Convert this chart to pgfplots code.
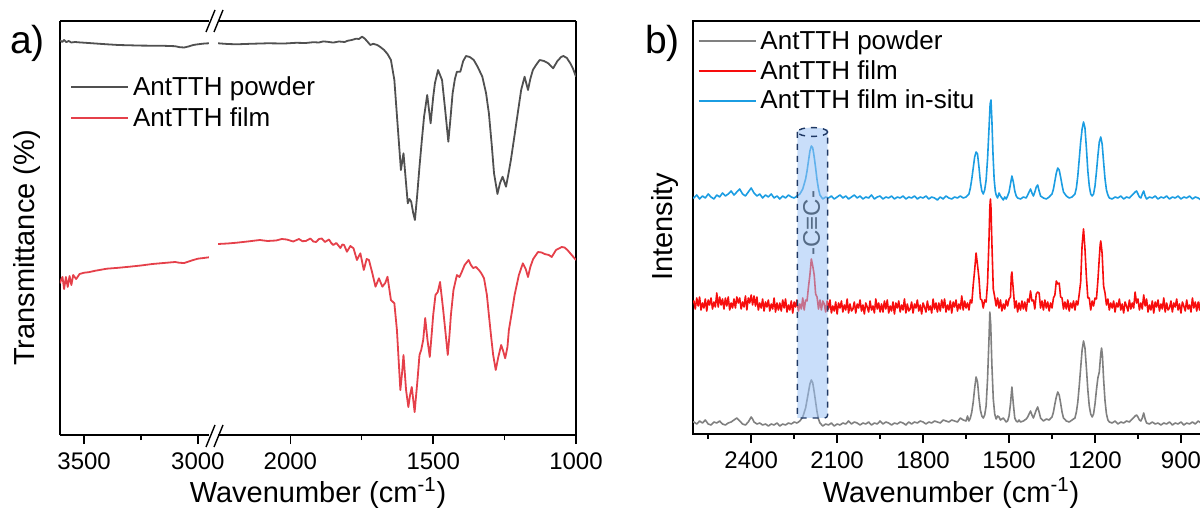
\documentclass[border=0pt]{standalone}
\usepackage{fontspec}
\setmainfont{Liberation Sans}
\usepackage{pgfplots}
\pgfplotsset{compat=1.18}
\definecolor{powA}{HTML}{505050}
\definecolor{filmA}{HTML}{E5404A}
\definecolor{powB}{HTML}{808080}
\definecolor{filmB}{HTML}{F70D0D}
\definecolor{situB}{HTML}{1B9DE2}
\definecolor{cylfill}{HTML}{9CC3F5}
\definecolor{cylline}{HTML}{1F3864}
\begin{document}
\begin{tikzpicture}
\pgfplotsset{
  base/.style={scale only axis, ytick=\empty, ymin=0, x dir=reverse,
    tick align=outside, major tick length=4.5pt, minor tick length=2.5pt,
    tick style={black, line width=0.7pt},
    axis line style={line width=0.7pt, black},
    tick label style={font=\fontsize{12}{14}\selectfont},
    xticklabel style={yshift=-1pt},
    /pgf/number format/assume math mode=true,
    /pgf/number format/set thousands separator={},
    legend cell align=left,
    legend image code/.code={\draw[##1] (0pt,0pt) -- (28.5pt,0pt);},
    every axis plot/.append style={line join=round, mark=none}},
}
% ---------------- panel a, left segment
\begin{axis}[base, at={(30pt,37pt)}, anchor=south west, width=74.5pt, height=207pt,
  xmin=2951, xmax=3606, ymax=414,
  axis x line*=box, axis y line*=left, axis line style={-},
  xtick={3000,3500}, minor xtick={3250}, xtick pos=left,
  legend style={at={(0.066,0.877)}, anchor=north west, draw=none, fill=none,
    inner sep=0pt, row sep=0.6pt, font=\fontsize{13}{15}\selectfont}]
\addplot[powA, line width=0.9pt] coordinates {(3606,394.5)(3596,393)(3588,395)(3578,392.8)(3568,394)(3556,392.5)(3540,393)(3520,392.6)(3500,392.3)(3450,391.5)(3400,390.7)(3350,390)(3300,389.7)(3250,389.4)(3200,389.3)(3150,389.2)(3100,388.8)(3080,387.8)(3060,387.5)(3040,388.6)(3020,390)(3000,390.7)(2970,391.5)(2951,391.7)};
\addlegendentry{AntTTH powder}
\addplot[filmA, line width=0.9pt] coordinates {(3606,151.7)(3600,156)(3595,158)(3588,146)(3580,158)(3572,148)(3564,159)(3556,150)(3548,160)(3535,156)(3520,161)(3500,162.3)(3480,162.8)(3450,164.3)(3400,166.3)(3350,167.2)(3300,168.3)(3250,169.5)(3200,171)(3150,172)(3100,173)(3080,172.2)(3060,172)(3040,173.5)(3020,175)(3000,176.3)(2975,177)(2951,177.7)};
\addlegendentry{AntTTH film}
\end{axis}
% ---------------- panel a, right segment
\begin{axis}[base, at={(109pt,37pt)}, anchor=south west, width=179pt, height=207pt,
  xmin=1000, xmax=2253.5, ymax=414,
  axis x line*=box, axis y line*=right, axis line style={-},
  xtick={1000,1500,2000}, minor xtick={1250,1750}, xtick pos=left]
\addplot[powA, line width=0.9pt] coordinates {(2253,391.7)(2220,391)(2188,390.7)(2140,391.2)(2080,391.7)(2020,391.5)(1980,392.2)(1946,392)(1920,392.8)(1900,392.5)(1885,393.6)(1870,393.2)(1850,392.4)(1830,393.5)(1810,393)(1800,394.2)(1785,395)(1770,396.3)(1760,396)(1749,398.3)(1740,396.5)(1730,393.3)(1720,390)(1710,391.2)(1696,390)(1685,388)(1672,385)(1660,381)(1648,375)(1636,355)(1625,311.7)(1613,265)(1604,281.7)(1596,255)(1589,231.7)(1583,236)(1577,233.3)(1570,222)(1564,215)(1556,240)(1548,268.3)(1540,294)(1532,318.3)(1521,340)(1509,311.7)(1500,338)(1494,351.7)(1483,365)(1469,355)(1458,325)(1447,293.3)(1440,315)(1432,341.7)(1424,356)(1417,363.3)(1405,363.3)(1395,374)(1385,379)(1372,378)(1358,375)(1344,368)(1328,358.3)(1315,342)(1305,321.7)(1295,290)(1287,261.7)(1275,241)(1266,252)(1257,258.3)(1245,248.3)(1236,262)(1228,275)(1215,300)(1204,321.7)(1192,345)(1180,358.3)(1168,345)(1160,356)(1151,365)(1140,370)(1127,375)(1112,374)(1097,371.7)(1080,366.7)(1065,374)(1052,378)(1044,379)(1032,377)(1020,371.7)(1010,366)(1000,358.3)};
\addplot[filmA, line width=0.9pt] coordinates {(2253,191)(2220,191.5)(2188,192.3)(2150,193.5)(2107,195)(2080,194)(2050,194.5)(2030,196)(2013,195.5)(1990,193.5)(1970,196)(1958,193.8)(1946,194)(1930,196.5)(1920,193.5)(1910,193)(1900,196)(1890,196.5)(1879,193)(1865,195.5)(1857,192)(1850,190)(1839,192)(1825,187)(1818,190.5)(1812,190)(1802,183.3)(1790,189)(1779,186.7)(1767,175)(1755,181.7)(1743,165)(1733,176)(1725,175)(1713,161.7)(1702,148.3)(1690,156.7)(1678,148.3)(1668,152)(1660,158.3)(1648,135)(1636,131.7)(1627,105)(1620,70)(1615,45)(1609,62)(1604,80)(1595,45)(1587,28)(1581,40)(1575,48)(1565,23)(1555,55)(1548,80)(1542,85)(1535,95)(1528,117)(1520,95)(1512,78)(1505,102)(1500,120)(1492,140)(1484,143)(1476,153)(1465,125)(1456,100)(1449,80)(1443,100)(1438,120)(1429,145)(1417,160)(1408,158)(1400,163)(1390,170)(1376,175)(1368,170)(1360,167)(1350,168)(1340,165)(1332,162)(1322,156.7)(1312,140)(1305,120)(1297,98)(1290,80)(1281,65)(1272,78)(1262,90)(1255,84)(1248,76.7)(1240,88)(1235,105)(1225,122)(1215,140)(1200,160)(1186,171.7)(1176,166)(1168,158)(1160,168)(1150,176)(1133,183)(1120,182.5)(1110,181)(1095,180)(1085,178)(1070,185)(1050,188)(1040,187.5)(1030,185)(1015,180)(1000,175)};
\end{axis}
% axis break marks
\draw[line width=0.7pt] (103pt,31pt) -- (107.5pt,42pt) (107pt,31pt) -- (111.5pt,42pt);
\draw[line width=0.7pt] (103pt,238.5pt) -- (107.5pt,249.5pt) (107pt,238.5pt) -- (111.5pt,249.5pt);
% panel a labels
\node[font=\fontsize{19.5}{22}\selectfont] at (13.75pt,233pt) {a)};
\node[font=\fontsize{14.5}{17}\selectfont, rotate=90] at (13.5pt,130.5pt) {Transmittance (\%)};
\node[font=\fontsize{14.5}{17}\selectfont, anchor=base] at (159pt,3.5pt) {Wavenumber (cm\textsuperscript{-1})};
% ---------------- panel b
\begin{axis}[base, set layers, at={(346.5pt,37.5pt)}, anchor=south west, width=258.3pt, height=206.5pt,
  xmin=800, xmax=2603, ymax=413,
  xtick={900,1200,1500,1800,2100,2400}, minor xtick={1050,1350,1650,1950,2250,2550}, xtick pos=left,
  legend style={at={(0.0087,0.988)}, anchor=north west, draw=none, fill=none,
    inner sep=0pt, row sep=0pt, font=\fontsize{13}{15}\selectfont}]
\addplot[powB, line width=0.8pt] coordinates {(2603,12)(2600,12)(2590,10)(2580,13)(2570,11)(2560,14)(2550,10)(2540,9)(2530,12)(2520,11)(2510,13)(2500,10)(2490,9)(2480,11)(2470,12)(2460,14)(2450,16)(2440,13)(2430,10)(2420,9)(2410,12)(2400,17)(2395,15)(2390,12)(2380,10)(2370,11)(2360,9)(2350,10)(2340,8)(2330,10)(2320,9)(2310,11)(2300,8)(2290,10)(2280,9)(2270,11)(2260,10)(2250,12)(2240,11)(2230,13)(2220,17)(2210,26)(2205,34)(2200,42)(2195,50)(2190,54)(2185,51)(2180,42)(2175,32)(2170,22)(2165,15)(2160,11)(2150,8)(2140,10)(2130,9)(2120,11)(2110,8)(2100,10)(2090,9)(2080,11)(2070,10)(2060,13)(2050,10)(2040,12)(2030,11)(2020,9)(2010,11)(2000,10)(1990,12)(1980,9)(1970,11)(1960,10)(1950,13)(1940,10)(1930,12)(1920,11)(1910,9)(1900,11)(1890,10)(1880,12)(1870,11)(1860,9)(1850,12)(1840,10)(1830,12)(1820,11)(1810,13)(1800,12)(1790,10)(1780,12)(1770,11)(1760,13)(1750,12)(1740,11)(1730,14)(1720,13)(1710,12)(1700,14)(1690,13)(1680,12)(1670,16)(1660,14)(1650,13)(1645,18)(1640,13)(1635,16)(1630,22)(1625,32)(1620,46)(1615,57)(1610,52)(1605,36)(1600,24)(1595,18)(1590,16)(1585,19)(1580,28)(1575,55)(1570,95)(1567,122)(1564,110)(1560,70)(1555,35)(1550,20)(1545,15)(1540,18)(1535,17)(1530,14)(1520,16)(1515,14)(1510,12)(1505,13)(1500,18)(1495,30)(1490,47)(1485,30)(1480,16)(1475,13)(1470,12)(1465,14)(1460,12)(1450,13)(1440,15)(1435,17)(1430,20)(1425,23)(1420,19)(1415,16)(1410,20)(1405,24)(1400,27)(1395,22)(1390,16)(1380,13)(1370,15)(1360,14)(1350,17)(1345,22)(1340,30)(1335,37)(1330,42)(1325,39)(1320,31)(1315,22)(1310,16)(1300,13)(1290,12)(1280,14)(1270,16)(1265,22)(1260,32)(1255,48)(1250,66)(1245,84)(1240,93)(1235,86)(1230,66)(1225,44)(1220,28)(1215,20)(1210,17)(1205,20)(1200,30)(1195,44)(1190,56)(1185,62)(1180,80)(1177,86)(1174,78)(1170,55)(1165,33)(1160,20)(1155,14)(1150,12)(1140,11)(1130,13)(1120,10)(1110,12)(1100,11)(1090,13)(1080,12)(1070,15)(1060,18)(1055,19)(1050,17)(1045,14)(1040,13)(1035,16)(1030,21)(1025,15)(1020,11)(1010,10)(1000,12)(990,10)(980,11)(970,9)(960,11)(950,10)(940,12)(930,9)(920,11)(910,10)(900,12)(890,9)(880,11)(870,10)(860,12)(850,10)(840,13)(830,11)(820,14)(810,10)(800,12)};
\addlegendentry{AntTTH powder}
\addplot[filmB, line width=0.8pt] coordinates {(2603,131)(2600,133)(2595,125)(2590,136)(2585,128)(2580,137)(2575,124)(2570,131)(2565,126)(2560,135)(2555,123)(2550,134)(2545,129)(2540,136)(2535,125)(2530,132)(2525,127)(2520,141)(2515,127)(2510,137)(2505,129)(2500,135)(2495,125)(2490,136)(2485,128)(2480,137)(2475,124)(2470,131)(2465,126)(2460,135)(2455,126)(2450,137)(2445,131)(2440,136)(2435,125)(2430,132)(2425,127)(2420,138)(2415,124)(2410,136)(2405,131)(2400,139)(2395,129)(2390,138)(2385,128)(2380,137)(2375,124)(2370,131)(2365,126)(2360,135)(2355,123)(2350,132)(2345,127)(2340,134)(2335,123)(2330,130)(2325,125)(2320,136)(2315,122)(2310,131)(2305,124)(2300,131)(2295,123)(2290,134)(2285,126)(2280,135)(2275,122)(2270,129)(2265,124)(2260,133)(2255,121)(2250,132)(2245,127)(2240,134)(2235,123)(2230,130)(2225,125)(2220,136)(2215,124)(2210,134)(2205,133)(2200,147)(2195,159)(2190,175)(2185,168)(2180,159)(2175,140)(2170,137)(2165,125)(2160,134)(2155,124)(2150,133)(2145,130)(2140,122)(2135,133)(2130,125)(2125,134)(2120,121)(2115,128)(2110,123)(2105,132)(2100,120)(2095,131)(2090,126)(2085,133)(2080,122)(2075,129)(2070,124)(2065,135)(2060,121)(2055,130)(2050,123)(2045,125)(2040,132)(2035,121)(2030,130)(2025,126)(2020,134)(2015,123)(2010,129)(2005,120)(2000,131)(1995,127)(1990,122)(1985,133)(1980,124)(1975,128)(1970,121)(1965,135)(1960,125)(1955,131)(1950,122)(1945,130)(1940,122)(1935,133)(1930,125)(1925,134)(1920,121)(1915,128)(1910,123)(1905,132)(1900,120)(1895,131)(1890,126)(1885,133)(1880,122)(1875,129)(1870,124)(1865,135)(1860,121)(1855,130)(1850,123)(1845,125)(1840,132)(1835,121)(1830,130)(1825,126)(1820,134)(1815,123)(1810,129)(1805,120)(1800,131)(1795,127)(1790,122)(1785,133)(1780,124)(1775,128)(1770,121)(1765,135)(1760,125)(1755,131)(1750,122)(1745,131)(1740,123)(1735,134)(1730,126)(1725,135)(1720,122)(1715,129)(1710,124)(1705,133)(1700,121)(1695,132)(1690,127)(1685,134)(1680,123)(1675,130)(1670,125)(1665,138)(1660,124)(1655,133)(1650,126)(1645,131)(1640,124)(1635,134)(1630,131)(1625,149)(1620,164)(1615,181)(1610,169)(1605,156)(1600,135)(1595,134)(1590,126)(1585,134)(1580,132)(1575,151)(1570,194)(1567,227)(1565,235)(1563,226)(1560,192)(1555,145)(1550,137)(1545,128)(1540,136)(1535,126)(1530,134)(1525,123)(1520,130)(1515,125)(1510,134)(1505,128)(1500,135)(1495,137)(1492,159)(1490,162)(1488,154)(1485,144)(1480,126)(1475,133)(1470,122)(1465,131)(1460,124)(1455,133)(1450,125)(1445,132)(1440,123)(1435,135)(1430,132)(1425,143)(1420,133)(1415,134)(1410,125)(1405,140)(1400,142)(1395,141)(1390,126)(1385,133)(1380,124)(1375,134)(1370,126)(1365,132)(1360,123)(1355,131)(1350,126)(1345,136)(1340,139)(1335,153)(1330,150)(1325,151)(1320,137)(1315,136)(1310,125)(1305,132)(1300,125)(1295,134)(1290,123)(1285,131)(1280,126)(1275,133)(1270,124)(1265,133)(1260,129)(1255,140)(1250,152)(1245,189)(1240,205)(1235,185)(1230,157)(1225,136)(1220,136)(1215,124)(1210,133)(1205,128)(1200,136)(1195,135)(1190,153)(1185,176)(1182,189)(1180,193)(1177,186)(1175,180)(1170,148)(1165,141)(1160,129)(1155,135)(1150,124)(1145,131)(1140,126)(1135,133)(1130,122)(1125,131)(1120,127)(1115,135)(1110,124)(1105,130)(1100,121)(1095,132)(1090,128)(1085,123)(1080,134)(1075,125)(1070,131)(1065,126)(1060,142)(1055,131)(1050,135)(1045,124)(1040,131)(1035,125)(1030,139)(1025,128)(1020,135)(1015,122)(1010,129)(1005,124)(1000,133)(995,121)(990,132)(985,127)(980,134)(975,123)(970,130)(965,125)(960,136)(955,122)(950,131)(945,124)(940,126)(935,133)(930,122)(925,131)(920,127)(915,135)(910,124)(905,130)(900,121)(895,132)(890,128)(885,123)(880,134)(875,125)(870,129)(865,122)(860,136)(855,126)(850,132)(845,123)(840,132)(835,124)(830,136)(825,129)(820,138)(815,125)(810,132)(805,127)(800,136)};
\addlegendentry{AntTTH film}
\addplot[situB, line width=0.8pt] coordinates {(2603,237)(2600,236)(2590,239)(2580,235)(2570,238)(2560,236)(2550,240)(2540,237)(2530,235)(2520,239)(2510,237)(2500,241)(2490,238)(2480,240)(2470,243)(2460,239)(2450,242)(2440,245)(2430,240)(2420,238)(2410,242)(2400,246)(2390,241)(2380,238)(2370,240)(2360,236)(2350,239)(2340,237)(2330,240)(2320,236)(2310,238)(2300,235)(2290,238)(2280,236)(2270,239)(2260,237)(2250,236)(2240,238)(2230,240)(2220,245)(2210,255)(2205,263)(2200,273)(2195,283)(2190,288)(2185,286)(2180,277)(2175,266)(2170,254)(2165,245)(2160,239)(2150,235)(2140,237)(2130,236)(2120,238)(2110,235)(2100,237)(2090,239)(2080,236)(2070,238)(2060,235)(2050,237)(2040,239)(2030,236)(2020,238)(2010,235)(2000,237)(1990,236)(1980,239)(1970,235)(1960,237)(1950,238)(1940,235)(1930,237)(1920,236)(1910,238)(1900,235)(1890,237)(1880,236)(1870,238)(1860,235)(1850,237)(1840,236)(1830,238)(1820,235)(1810,237)(1800,236)(1790,238)(1780,235)(1770,237)(1760,236)(1750,234)(1740,237)(1730,235)(1720,238)(1710,236)(1700,235)(1690,237)(1680,236)(1670,238)(1660,236)(1650,237)(1640,240)(1635,246)(1630,255)(1625,266)(1620,277)(1615,282)(1610,280)(1605,267)(1600,252)(1595,243)(1590,240)(1585,244)(1580,254)(1575,275)(1570,305)(1566,330)(1563,334)(1560,315)(1556,280)(1552,255)(1548,243)(1545,239)(1540,236)(1535,241)(1530,238)(1525,236)(1520,234)(1515,237)(1510,235)(1505,238)(1500,242)(1495,250)(1490,258)(1485,252)(1480,243)(1475,238)(1470,236)(1460,235)(1450,237)(1440,236)(1435,239)(1430,242)(1425,245)(1420,241)(1415,238)(1410,242)(1405,247)(1400,249)(1395,243)(1390,238)(1380,236)(1370,235)(1360,237)(1350,240)(1345,245)(1340,253)(1335,261)(1330,266)(1325,264)(1320,257)(1315,249)(1310,242)(1300,238)(1290,236)(1280,237)(1270,240)(1265,246)(1260,258)(1255,275)(1250,292)(1245,305)(1240,312)(1235,306)(1230,286)(1225,263)(1220,248)(1215,240)(1210,238)(1205,240)(1200,248)(1195,262)(1190,278)(1185,292)(1180,297)(1175,290)(1170,272)(1165,255)(1160,244)(1155,239)(1150,236)(1140,235)(1130,237)(1120,236)(1110,238)(1100,235)(1090,237)(1080,236)(1070,239)(1060,242)(1055,243)(1050,240)(1045,237)(1040,236)(1035,240)(1030,243)(1025,238)(1020,235)(1010,237)(1000,236)(990,238)(980,235)(970,237)(960,236)(950,238)(940,235)(930,237)(920,236)(910,238)(900,235)(890,237)(880,236)(870,238)(860,235)(850,237)(840,236)(830,234)(820,237)(810,235)(800,237)};
\addlegendentry{AntTTH film in-situ}
% highlighted C#C band, drawn above the spectra
\begin{pgfonlayer}{axis foreground}
\path[fill=cylfill, fill opacity=0.55] (axis cs:2239,302) -- (axis cs:2239,16) [rounded corners=1.5pt] -- (axis cs:2133,16) -- (axis cs:2133,302) [sharp corners] arc[start angle=0, end angle=180, x radius=7.6pt, y radius=2.2pt] -- cycle;
\draw[cylline, dashed, line width=0.7pt, rounded corners=1.5pt] (axis cs:2239,302) -- (axis cs:2239,16) -- (axis cs:2133,16) -- (axis cs:2133,302);
\draw[cylline, dashed, line width=0.7pt] (axis cs:2186,302) ellipse [x radius=7.6pt, y radius=2.2pt];
\end{pgfonlayer}
\end{axis}
\node[rotate=90, font=\fontsize{12}{14}\selectfont] at (405.75pt,143pt) {-C≡C-};
\node[font=\fontsize{19.5}{22}\selectfont] at (331.25pt,233pt) {b)};
\node[font=\fontsize{14.5}{17}\selectfont, rotate=90] at (332.5pt,141.2pt) {Intensity};
\node[font=\fontsize{14.5}{17}\selectfont, anchor=base] at (475.5pt,3.5pt) {Wavenumber (cm\textsuperscript{-1})};
\pgfresetboundingbox
\useasboundingbox (0,0) rectangle (600pt,254.5pt);
\end{tikzpicture}
\end{document}
